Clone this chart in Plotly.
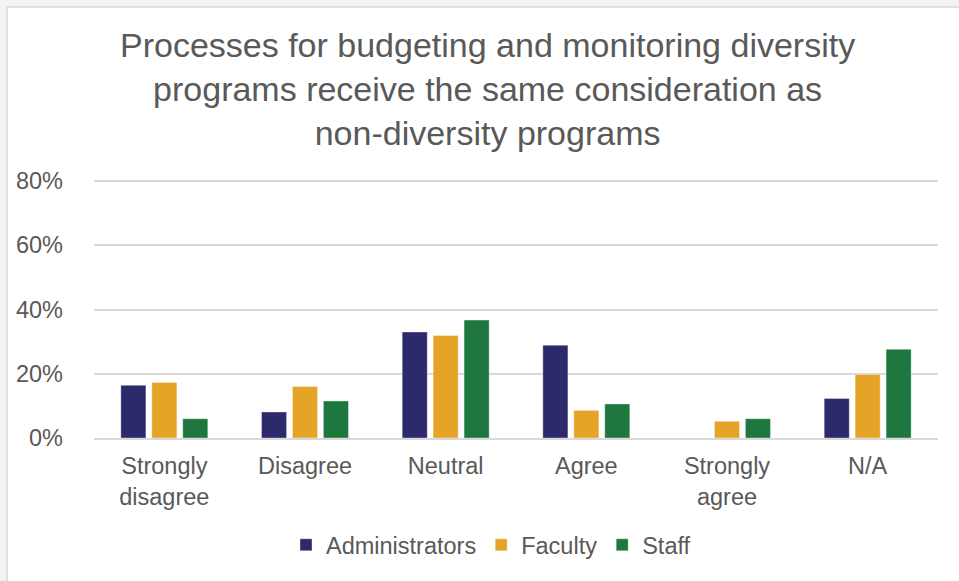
import plotly.graph_objects as go

categories = ["Strongly<br>disagree", "Disagree", "Neutral", "Agree", "Strongly<br>agree", "N/A"]
administrators = [0.164, 0.081, 0.330, 0.289, 0.0, 0.123]
faculty = [0.173, 0.160, 0.319, 0.086, 0.052, 0.198]
staff = [0.060, 0.115, 0.367, 0.106, 0.060, 0.276]
series_names = ["Administrators", "Faculty", "Staff"]
colors = ["#2c2a6b", "#e5a427", "#1e773f"]
y_ticks = [0, 0.2, 0.4, 0.6, 0.8]
title_text = ("Processes for budgeting and monitoring diversity<br>"
              "programs receive the same consideration as<br>"
              "non-diversity programs")

L, R, T, B = 94, 21, 175, 143
W, H = 959, 581
PW, PH = W - L - R, H - T - B
Y_TOP = 0.8 * (H - B - T) / (H - B - 181)

def px_x(px):
    return (px - L) / PW

def px_y(py):
    return (H - B - py) / PH

fig = go.Figure()
for name, vals, col in zip(series_names, [administrators, faculty, staff], colors):
    fig.add_trace(go.Bar(
        x=categories, y=vals, name=name,
        marker=dict(color=col, line=dict(color="rgba(255,255,255,0.6)", width=0.6)),
    ))

font_family = "Liberation Sans, Arial, sans-serif"
fig.update_layout(
    width=W, height=H,
    paper_bgcolor="#f3f3f3",
    plot_bgcolor="white",
    margin=dict(l=L, r=R, t=T, b=B, autoexpand=False),
    barmode="group",
    bargap=0.34,
    bargroupgap=0.19,
    font=dict(family=font_family, color="#595959"),
    yaxis=dict(
        range=[0, Y_TOP], tickvals=y_ticks, tickformat=".0%",
        showgrid=True, gridcolor="#d9d9d9", gridwidth=1.5,
        zeroline=False, showline=False,
        tickfont=dict(size=23.5, color="#595959"),
        ticks="", ticklabelstandoff=30,
    ),
    xaxis=dict(
        showline=True, linecolor="#d9d9d9", linewidth=1.5,
        ticks="", tickfont=dict(size=23.5, color="#595959"),
        ticklabelstandoff=6,
    ),
    legend=dict(
        orientation="h", x=px_x(491), xanchor="center", y=px_y(545), yanchor="middle",
        font=dict(size=23.5, color="#595959"),
        bgcolor="rgba(0,0,0,0)",
        itemwidth=30, traceorder="normal",
    ),
    annotations=[dict(
        text=title_text, xref="paper", yref="paper",
        x=px_x(487), y=px_y(89), xanchor="center", yanchor="middle",
        showarrow=False, align="center",
        font=dict(size=34, color="#595959", family=font_family),
    )],
    shapes=[dict(
        type="rect", xref="paper", yref="paper",
        x0=px_x(7), x1=px_x(W + 10), y0=px_y(H + 10), y1=px_y(7),
        fillcolor="white", line=dict(color="#d9d9d9", width=1.5), layer="below",
    )],
)

fig.write_html("out.html", config={"displayModeBar": False},
               post_script="document.body.style.margin='0';")
